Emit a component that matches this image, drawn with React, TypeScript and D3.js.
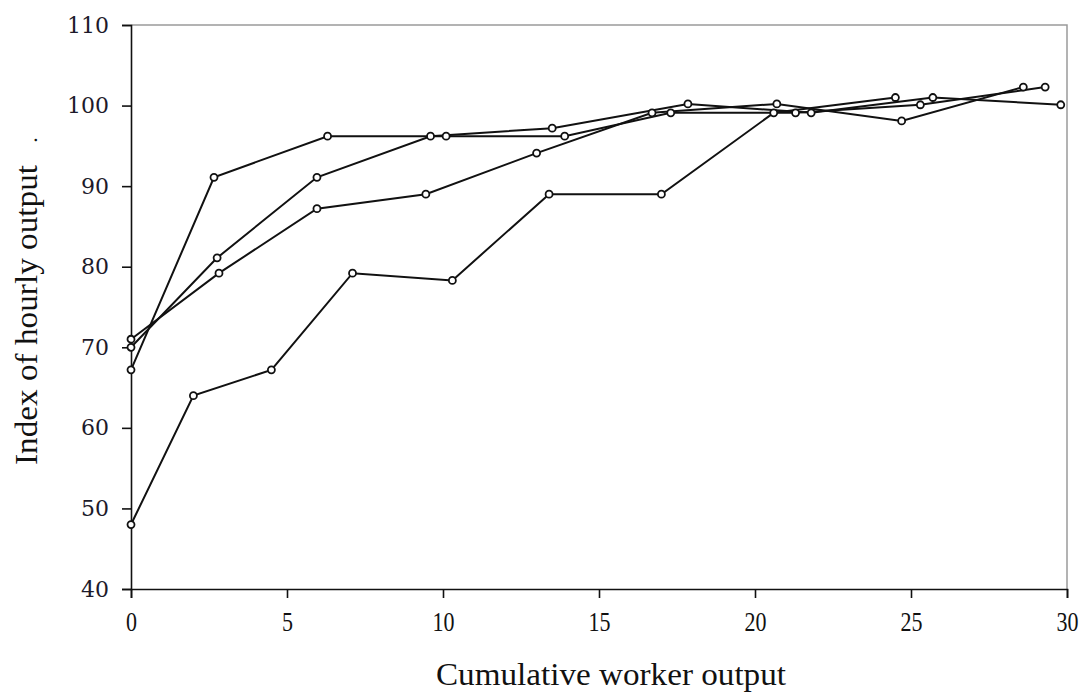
import * as d3 from 'd3';
import { useEffect, useRef } from 'react';

// cumulative output (x) and index of hourly output (y), one pair per worker group
const groupAx = [0, 2.66, 6.3, 10.1, 13.9, 17.3, 21.3, 25.3, 29.3];
const groupAy = [67.2, 91.1, 96.2, 96.2, 96.2, 99.1, 99.1, 100.1, 102.3];

const groupBx = [0, 2.76, 5.96, 9.6, 13.5, 17.85, 21.8, 25.7, 29.8];
const groupBy = [70.0, 81.1, 91.1, 96.2, 97.2, 100.2, 99.1, 101.0, 100.1];

const groupCx = [0, 2.82, 5.96, 9.45, 13.0, 16.7, 20.7, 24.7, 28.6];
const groupCy = [71.0, 79.2, 87.2, 89.0, 94.1, 99.1, 100.2, 98.1, 102.3];

const groupDx = [0, 2.0, 4.5, 7.1, 10.3, 13.4, 17.0, 20.6, 24.5];
const groupDy = [48.0, 64.0, 67.2, 79.2, 78.3, 89.0, 89.0, 99.1, 101.0];

const xTicks = [0, 5, 10, 15, 20, 25, 30];
const yTicks = [40, 50, 60, 70, 80, 90, 100, 110];

const W = 1089;
const H = 694;
const margin = { left: 131, right: 22, top: 25, bottom: 105 };

export default function App() {
    const ref = useRef<SVGSVGElement>(null);

    useEffect(() => {
        const svg = d3.select(ref.current);
        svg.selectAll('*').remove();

        const innerW = W - margin.left - margin.right;
        const innerH = H - margin.top - margin.bottom;
        const x = d3.scaleLinear().domain([0, 30]).range([0, innerW]);
        const y = d3.scaleLinear().domain([40, 110]).range([innerH, 0]);

        const g = svg.append('g').attr('transform', `translate(${margin.left},${margin.top})`);

        // grey frame on top and right
        g.append('path')
            .attr('d', `M0,0H${innerW}V${innerH}`)
            .attr('fill', 'none')
            .attr('stroke', '#9a9a9a')
            .attr('stroke-width', 1.5);

        // y axis
        const yAxis = g.append('g')
            .call(d3.axisLeft(y).tickValues(yTicks).tickSize(9).tickPadding(13).tickFormat(d3.format('d')));
        yAxis.select('.domain').attr('stroke', '#111').attr('stroke-width', 1.6);
        yAxis.selectAll('line').attr('stroke', '#111').attr('stroke-width', 1.6);
        yAxis.selectAll('text')
            .attr('font-family', '"DejaVu Serif", serif')
            .attr('font-size', 22)
            .attr('fill', '#1c1a2a');

        // x axis
        const xAxis = g.append('g')
            .attr('transform', `translate(0,${innerH})`)
            .call(d3.axisBottom(x).tickValues(xTicks).tickSize(9).tickPadding(14).tickFormat(d3.format('d')));
        xAxis.select('.domain').attr('stroke', '#111').attr('stroke-width', 1.6);
        xAxis.selectAll('line').attr('stroke', '#111').attr('stroke-width', 1.6);
        xAxis.selectAll('text')
            .attr('font-family', '"Liberation Serif", serif')
            .attr('font-size', 27)
            .attr('fill', '#111')
            .attr('textLength', (d: any) => String(d).length * 11)
            .attr('lengthAdjust', 'spacingAndGlyphs');

        // labels
        g.append('text')
            .attr('x', innerW / 2 + 12)
            .attr('y', innerH + 96)
            .attr('text-anchor', 'middle')
            .attr('font-family', '"Liberation Serif", serif')
            .attr('font-size', 31)
            .attr('fill', '#111')
            .attr('textLength', 350)
            .attr('lengthAdjust', 'spacingAndGlyphs')
            .text('Cumulative worker output');

        svg.append('text')
            .attr('transform', `translate(37,${315}) rotate(-90)`)
            .attr('text-anchor', 'middle')
            .attr('font-family', '"Liberation Serif", serif')
            .attr('font-size', 31)
            .attr('fill', '#111')
            .attr('textLength', 300)
            .attr('lengthAdjust', 'spacingAndGlyphs')
            .text('Index of hourly output');
        svg.append('text')
            .attr('transform', `translate(37,${140}) rotate(-90)`)
            .attr('text-anchor', 'middle')
            .attr('font-family', '"Liberation Serif", serif')
            .attr('font-size', 22)
            .attr('fill', '#111')
            .text('.');

        const groups = [
            { xs: groupAx, ys: groupAy },
            { xs: groupBx, ys: groupBy },
            { xs: groupCx, ys: groupCy },
            { xs: groupDx, ys: groupDy },
        ];
        const line = d3.line<[number, number]>()
            .x(d => x(d[0]))
            .y(d => y(d[1]));

        groups.forEach(s => {
            const pts: [number, number][] = s.xs.map((v, i) => [v, s.ys[i]]);
            g.append('path')
                .datum(pts)
                .attr('d', line)
                .attr('fill', 'none')
                .attr('stroke', '#111')
                .attr('stroke-width', 2);
        });
        groups.forEach(s => {
            const pts: [number, number][] = s.xs.map((v, i) => [v, s.ys[i]]);
            g.selectAll(null)
                .data(pts)
                .enter()
                .append('circle')
                .attr('cx', d => x(d[0]))
                .attr('cy', d => y(d[1]))
                .attr('r', 3.5)
                .attr('fill', '#fff')
                .attr('stroke', '#111')
                .attr('stroke-width', 1.8);
        });
    }, []);

    return (
        <svg
            ref={ref}
            width={W}
            height={H}
            style={{ position: 'absolute', left: 0, top: 0, background: '#fff', display: 'block' }}
        />
    );
}
